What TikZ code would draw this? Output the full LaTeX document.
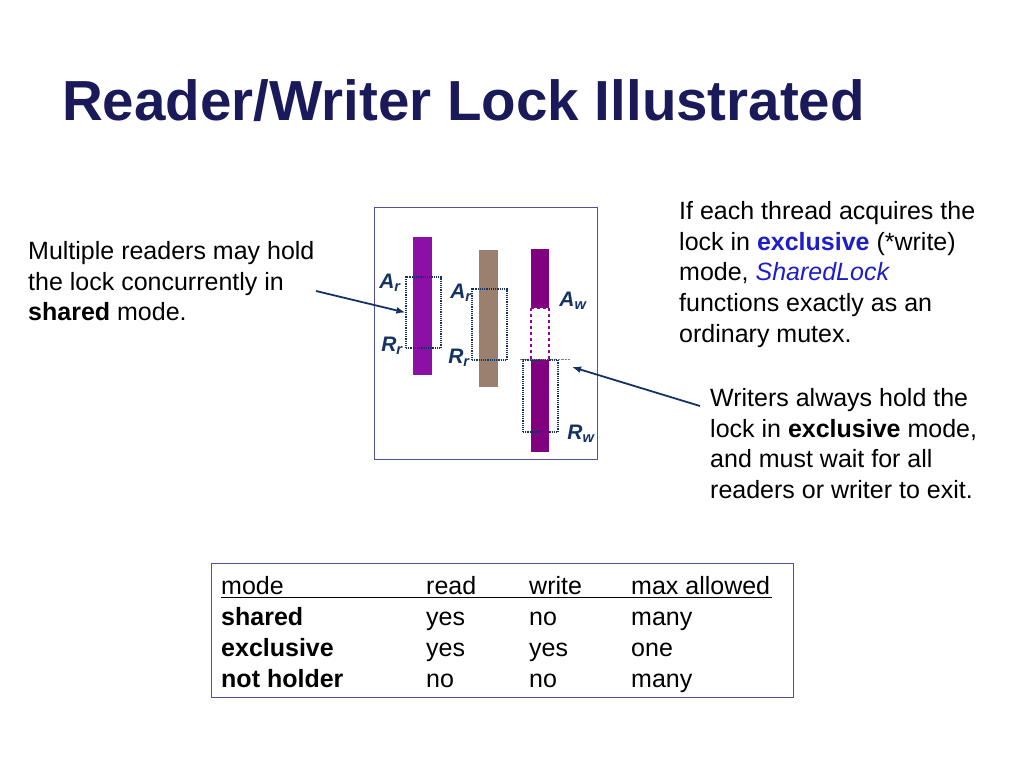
\documentclass[tikz,border=0pt]{standalone}
\usepackage{fontspec}
\setmainfont{Liberation Sans}
\definecolor{navy}{RGB}{26,26,90}
\definecolor{labelblue}{RGB}{20,50,100}
\definecolor{boxblue}{RGB}{80,80,160}
\definecolor{hiblue}{RGB}{30,30,200}
\definecolor{barone}{RGB}{140,16,165}
\definecolor{bartwo}{RGB}{155,128,112}
\definecolor{barthree}{RGB}{128,0,128}
\tikzset{
  txt/.style={anchor=north west, inner sep=0pt, align=left, font=\fontsize{25}{30.7}\selectfont},
  sub/.style={inner sep=0pt, text=labelblue, font=\fontsize{21}{21}\selectfont\bfseries\itshape},
  hold/.style={draw=labelblue, densely dotted, line width=1.2pt},
  cell/.style={anchor=base west, inner sep=0pt, font=\fontsize{25}{26}\selectfont},
  ptr/.style={draw=labelblue, line width=1.8pt, -{Latex[length=9pt,width=7pt]}}
}
\usetikzlibrary{arrows.meta}
\begin{document}
\begin{tikzpicture}[x=1pt,y=-1pt]
\useasboundingbox (0,0) rectangle (1024,768);
% title
\node (title) [anchor=base west, inner sep=0pt, text=navy, font=\fontsize{56.5}{56}\selectfont\bfseries] at (62,120) {Reader/Writer Lock Illustrated};
% picture frame
\draw [boxblue, line width=1pt] (374,207) rectangle (597,459);
% bars
\fill [barone] (413,237) rectangle (432,375);
\fill [bartwo] (479,250) rectangle (498,387);
\fill [barthree] (531,249) rectangle (549,308);
\fill [barthree] (531,360) rectangle (549,452);
\draw [barthree!80!magenta, dashed, line width=1.5pt] (531,308) -- (549,308) (531,308) -- (531,360) (549,308) -- (549,360);
\draw [gray, densely dotted] (520,359) -- (570,359);
% hold intervals
\node (h1) [hold, minimum width=35, minimum height=71, inner sep=0pt] at (423.5,312.5) {};
\node (h2) [hold, minimum width=35, minimum height=71, inner sep=0pt] at (489.5,324.5) {};
\node (h3) [hold, minimum width=35, minimum height=72, inner sep=0pt] at (540.5,396) {};
% labels
\node [sub] at (390,283) {A\textsubscript{r}};
\node [sub] at (392,346) {R\textsubscript{r}};
\node [sub] at (461,293) {A\textsubscript{r}};
\node [sub] at (459,358) {R\textsubscript{r}};
\node [sub] at (573,301) {A\textsubscript{w}};
\node [sub] at (581,434) {R\textsubscript{w}};
% texts
\node (readers) [txt] at (28,241) {Multiple readers may hold\\the lock concurrently in\\\textbf{shared} mode.};
\node (excl) [txt] at (679,201) {If each thread acquires the\\lock in \textbf{\color{hiblue}exclusive} (*write)\\mode, \textit{\color{hiblue}SharedLock}\\functions exactly as an\\ordinary mutex.};
\node (writers) [txt] at (710,388) {Writers always hold the\\lock in \textbf{exclusive} mode,\\and must wait for all\\readers or writer to exit.};
% pointers
\coordinate (rtail) at (316,291);
\coordinate (wtail) at (700,406);
\draw [ptr] (rtail) -- (h1.west);
\draw [ptr] (wtail) -- (572,367);
% table
\draw [boxblue, line width=1pt] (211,563) rectangle (793,697);
\draw (221,597) -- (772,597);
\foreach \y/\a/\b/\c/\d in {594/mode/read/write/max allowed,
  625/\textbf{shared}/yes/no/many,
  656/\textbf{exclusive}/yes/yes/one,
  687/\textbf{not holder}/no/no/many}{
  \node [cell] at (221,\y) {\a};
  \node [cell] at (426,\y) {\b};
  \node [cell] at (529,\y) {\c};
  \node [cell] at (631,\y) {\d};
}
\end{tikzpicture}
\end{document}
